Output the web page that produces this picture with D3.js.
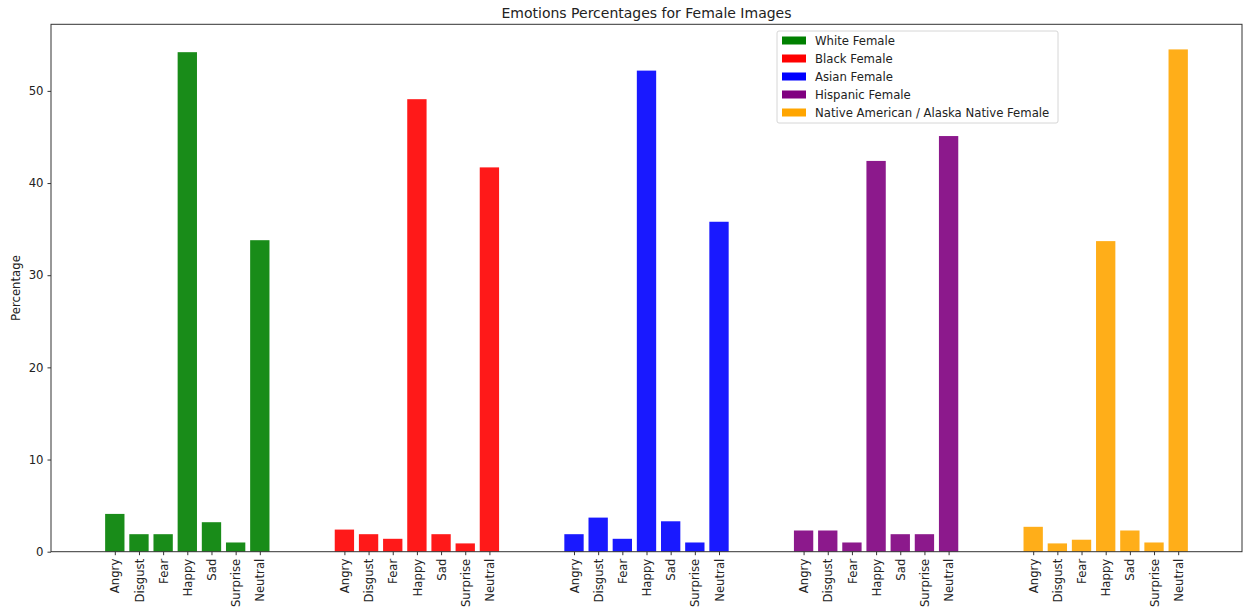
<!DOCTYPE html>
<html><head><meta charset="utf-8">
<script src="https://cdn.jsdelivr.net/npm/d3@7"></script>
<style>
body{margin:0;background:#fff;}
text{font-family:"DejaVu Sans",sans-serif;}
</style></head>
<body><svg id="c" width="1251" height="611"></svg>
<script>
const emotions = ["Angry","Disgust","Fear","Happy","Sad","Surprise","Neutral"];
const groups = ["White Female","Black Female","Asian Female","Hispanic Female","Native American / Alaska Native Female"];
const colors = ["#008000","#ff0000","#0000ff","#800080","#ffa500"];
const whiteFemale = [4.1,1.9,1.9,54.2,3.2,1.0,33.8];
const blackFemale = [2.4,1.9,1.4,49.1,1.9,0.9,41.7];
const asianFemale = [1.9,3.7,1.4,52.2,3.3,1.0,35.8];
const hispanicFemale = [2.3,2.3,1.0,42.4,1.9,1.9,45.1];
const nativeFemale = [2.7,0.9,1.3,33.7,2.3,1.0,54.5];
const yTicks = [0,10,20,30,40,50];
const title = "Emotions Percentages for Female Images";
const yLabel = "Percentage";

const series = [whiteFemale, blackFemale, asianFemale, hispanicFemale, nativeFemale];
const groupGap = 9.5;
const barW = 0.8;

const data = [];
series.forEach((vals, g) => vals.forEach((v, j) => data.push({g, j, v, pos: g*groupGap + j, label: emotions[j]})));

const L = 51, R = 1242, T = 24.3, B = 551.7;
const svg = d3.select("#c");

const xmin = d3.min(data, d => d.pos) - barW/2, xmax = d3.max(data, d => d.pos) + barW/2;
const xm = (xmax - xmin) * 0.05;
const x = d3.scaleLinear().domain([xmin - xm, xmax + xm]).range([L, R]);
const ymax = d3.max(data, d => d.v) * 1.05;
const y = d3.scaleLinear().domain([0, ymax]).range([B, T]);

// bars
svg.append("g").selectAll("rect").data(data).join("rect")
  .attr("x", d => x(d.pos - barW/2))
  .attr("width", d => x(d.pos + barW/2) - x(d.pos - barW/2))
  .attr("y", d => y(d.v))
  .attr("height", d => y(0) - y(d.v))
  .attr("fill", d => colors[d.g])
  .attr("fill-opacity", 0.9);

// frame
svg.append("rect").attr("x", L).attr("y", T).attr("width", R - L).attr("height", B - T)
  .attr("fill", "none").attr("stroke", "#333").attr("stroke-width", 1);

// y axis
const yAxis = svg.append("g").attr("transform", `translate(${L},0)`)
  .call(d3.axisLeft(y).tickValues(yTicks).tickSize(3.5).tickPadding(4));
yAxis.select(".domain").remove();
yAxis.selectAll("line").attr("stroke", "#333");
yAxis.selectAll("text").attr("font-size", 11.7).attr("fill", "#222").attr("font-family", "DejaVu Sans");

// x axis
const xAxis = svg.append("g").attr("transform", `translate(0,${B})`)
  .call(d3.axisBottom(x).tickValues(data.map(d => d.pos)).tickFormat((d, i) => data[i].label).tickSize(3.5));
xAxis.select(".domain").remove();
xAxis.selectAll("line").attr("stroke", "#333");
xAxis.selectAll("text")
  .attr("font-size", 11.7).attr("fill", "#222").attr("font-family", "DejaVu Sans")
  .attr("transform", "rotate(-90)")
  .attr("text-anchor", "end")
  .attr("x", -7).attr("y", 0).attr("dy", "0.35em");

// title
svg.append("text").attr("x", (L + R) / 2).attr("y", 18).attr("text-anchor", "middle")
  .attr("font-size", 14).attr("fill", "#222").text(title);

// y label
svg.append("text").attr("transform", `translate(20,${(T + B) / 2}) rotate(-90)`)
  .attr("text-anchor", "middle").attr("font-size", 11.7).attr("fill", "#222").text(yLabel);

// legend
const lg = svg.append("g");
lg.append("rect").attr("x", 777).attr("y", 31).attr("width", 281).attr("height", 92)
  .attr("rx", 2).attr("fill", "#fff").attr("fill-opacity", 0.8).attr("stroke", "#d6d6d6");
groups.forEach((gname, i) => {
  const cy = 40.5 + i * 18;
  lg.append("rect").attr("x", 782).attr("y", cy - 4).attr("width", 24).attr("height", 8).attr("fill", colors[i]);
  lg.append("text").attr("x", 815).attr("y", cy).attr("dy", "0.35em")
    .attr("font-size", 11.7).attr("fill", "#222").text(gname);
});
</script></body></html>
